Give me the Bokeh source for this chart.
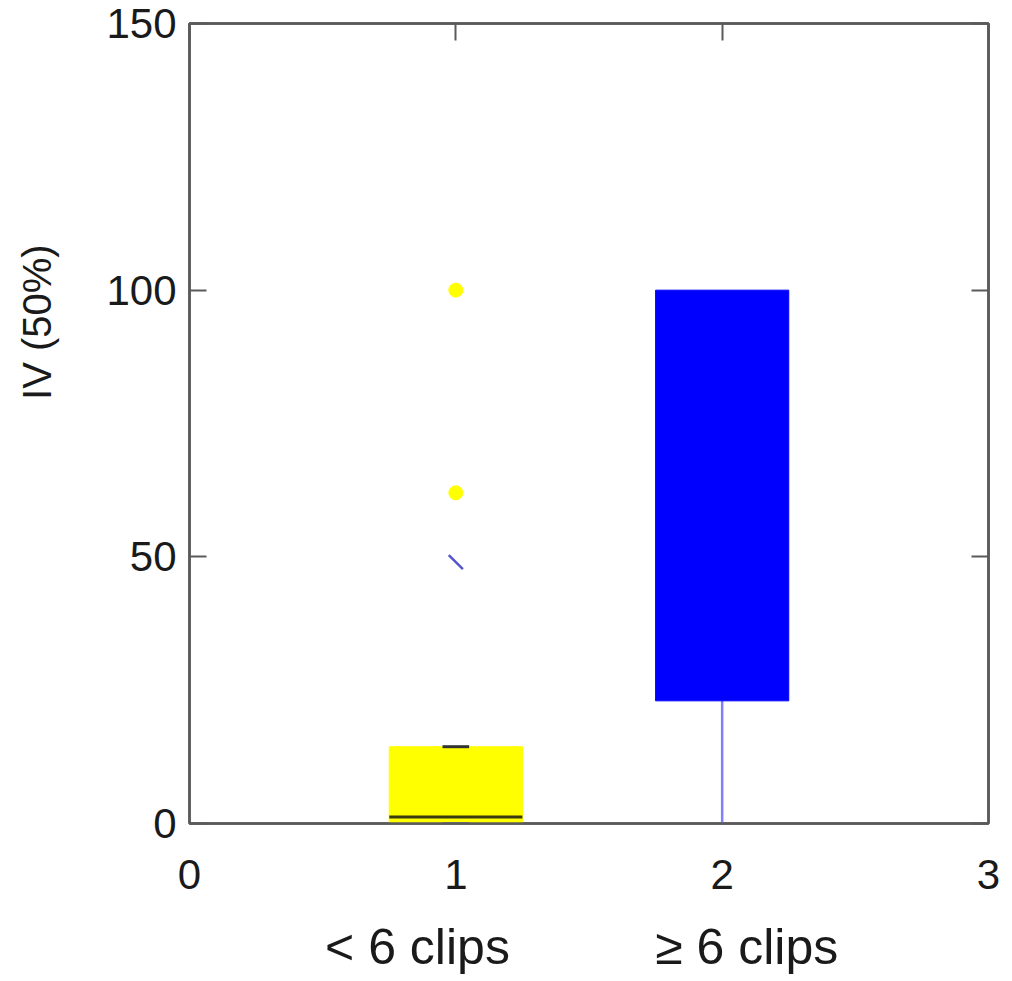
from bokeh.plotting import figure
from bokeh.models import Range1d, FixedTicker, LinearAxis, CustomJSTickFormatter
from bokeh.embed import file_html
from bokeh.resources import INLINE
import math

# ---- data ----
positions = [1, 2]
group_labels = ["< 6 clips", "\u2265 6 clips"]
label_x = [0.856, 2.092]
box_low = [0.0, 23.0]
box_high = [14.4, 100.0]
whisker_low = [0.0, 0.0]
whisker_high = [14.4, 100.0]
median_1 = 1.2
box_colors = ["#ffff00", "#0000ff"]
outlier_x = [1, 1]
outlier_y = [100.0, 62.0]
mean_x = [1]
mean_y = [49.0]
y_ticks = [0, 50, 100, 150]
x_ticks = [0, 1, 2, 3]
y_title = "IV (50%)"
y_title_pos = 94

FONT = "Liberation Sans"
FRAME = "#5a5a5a"
TXT = "#1a1a1a"

p = figure(width=1004, height=978, output_backend="svg", toolbar_location=None,
           x_range=Range1d(0, 3), y_range=Range1d(0, 150),
           min_border_left=189, min_border_top=23, min_border_right=16,
           min_border_bottom=155)
p.grid.visible = False
p.outline_line_color = FRAME
p.outline_line_width = 2.5
p.background_fill_color = "white"
p.border_fill_color = "white"

for ax, tk in ((p.xaxis, x_ticks), (p.yaxis, y_ticks)):
    ax.ticker = FixedTicker(ticks=tk)
    ax.major_tick_in = 17
    ax.major_tick_out = 0
    ax.minor_tick_line_color = None
    ax.axis_line_color = FRAME
    ax.axis_line_width = 2.5
    ax.major_tick_line_color = FRAME
    ax.major_tick_line_width = 2
    ax.major_label_text_font = FONT
    ax.major_label_text_font_size = "42px"
    ax.major_label_text_color = TXT
p.xaxis.major_tick_in = 0
p.xaxis.major_label_standoff = 36
p.yaxis.major_label_standoff = 13

# mirror axes (ticks only)
def mirror(ticks):
    return LinearAxis(ticker=FixedTicker(ticks=ticks), major_tick_in=17, major_tick_out=0,
                      minor_tick_line_color=None, axis_line_color=FRAME, axis_line_width=2.5,
                      major_tick_line_color=FRAME, major_tick_line_width=2,
                      major_label_text_font_size="0px", major_label_text_alpha=0)
p.add_layout(mirror(x_ticks), "above")
p.add_layout(mirror(y_ticks), "right")

# group labels as an extra bottom axis
grp_fmt = CustomJSTickFormatter(args=dict(labels=group_labels),
                                code="return tick < 1.5 ? labels[0] : labels[1];")
grp_axis = LinearAxis(ticker=FixedTicker(ticks=label_x), formatter=grp_fmt,
                      axis_line_color=None, major_tick_line_color=None,
                      minor_tick_line_color=None, major_label_standoff=21,
                      major_label_text_font=FONT, major_label_text_font_size="50px",
                      major_label_text_color=TXT)
p.add_layout(grp_axis, "below")

# y title as an extra left axis
title_fmt = CustomJSTickFormatter(args=dict(t=y_title), code="return t;")
title_axis = LinearAxis(ticker=FixedTicker(ticks=[y_title_pos]), formatter=title_fmt,
                        axis_line_color=None, major_tick_line_color=None,
                        minor_tick_line_color=None, major_label_standoff=38,
                        major_label_orientation="vertical",
                        major_label_text_font=FONT, major_label_text_font_size="40px",
                        major_label_text_color=TXT)
p.add_layout(title_axis, "left")

# whiskers
p.segment(x0=positions, y0=whisker_low, x1=positions, y1=box_low,
          line_color=["#555555", "#8080ff"], line_width=2.5)
p.segment(x0=positions, y0=box_high, x1=positions, y1=whisker_high,
          line_color=["#555555", "#8080ff"], line_width=2.5)

# boxes
p.quad(left=[x - 0.25 for x in positions], right=[x + 0.25 for x in positions],
       bottom=box_low, top=box_high, fill_color=box_colors,
       line_color=box_colors, line_width=1)

# caps for group 1
p.segment(x0=[0.95], y0=[whisker_high[0]], x1=[1.05], y1=[whisker_high[0]],
          line_color="#333333", line_width=3)
p.segment(x0=[0.95], y0=[whisker_low[0]], x1=[1.05], y1=[whisker_low[0]],
          line_color="#8a8aa8", line_width=3)

# median group 1
p.segment(x0=[0.75], y0=[median_1], x1=[1.25], y1=[median_1],
          line_color="#3a3a10", line_width=3)

# outliers
p.scatter(outlier_x, outlier_y, size=14, fill_color="#ffff00", line_color="#ffff00")
p.scatter(mean_x, mean_y, marker="dash", size=20, angle=-math.pi / 4,
          line_color="#5555cc", line_width=2.5)

open("out.html", "w").write(file_html(p, INLINE))
